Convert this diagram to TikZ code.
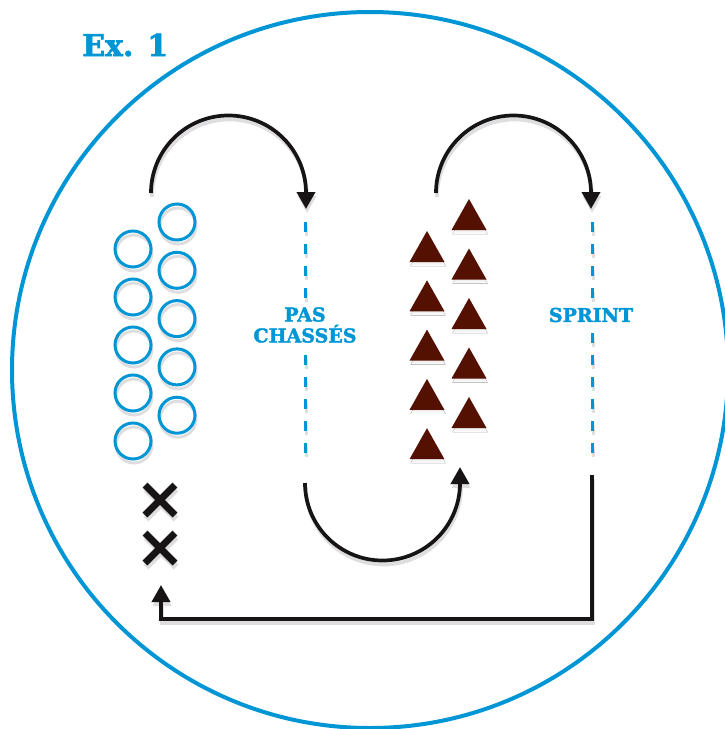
\documentclass[tikz,border=0pt]{standalone}
\usepackage{fontspec}
\setmainfont{DejaVu Serif}
\newfontfamily\slabfont{DejaVu Serif Bold}[FakeBold=2.2]
\usetikzlibrary{arrows.meta}
\definecolor{drillblue}{RGB}{0,150,214}
\definecolor{conebrown}{RGB}{84,17,2}
\definecolor{inkblack}{RGB}{22,20,20}
\definecolor{shade}{RGB}{222,222,225}

% the running routes: two arcs over the top, one arc below, and the return line
\newcommand\drillroutes[1]{%
  \draw[route,tip,#1] (s1) arc[start angle=180,end angle=360,radius=77.5] -- (e1);
  \draw[route,tip,#1] (s2) arc[start angle=180,end angle=360,radius=77.5] -- (e2);
  \draw[route,tip,#1] (s3) arc[start angle=180,end angle=0,radius=77.5] -- (e3);
  \draw[route,tip,#1] (s4) -- (c4) -- (c5) -- (e4);
}

\begin{document}
\begin{tikzpicture}[x=1pt,y=-1pt,
  route/.style={line width=3.7pt, draw=inkblack, line join=miter},
  tip/.style={-{Triangle[width=18pt,length=17pt]}},
  lane/.style={draw=drillblue, line width=3pt, dash pattern=on 10pt off 12pt},
  ring/.style={circle, draw=drillblue, line width=3pt, minimum size=36pt, inner sep=0pt},
  ringshade/.style={circle, draw=shade, line width=3pt, minimum size=36pt, inner sep=0pt},
  cross/.style={line width=7pt, draw=#1},
  drilltext/.style={font=\slabfont\fontsize{19}{21}\selectfont, align=center, inner sep=0pt},
]
\useasboundingbox (0,0) rectangle (724,729);

% outer frame
\draw[drillblue, line width=4pt] (370,370) circle[radius=358];

% title
\node[anchor=base west, inner sep=0pt, text=drillblue,
      font=\slabfont\fontsize{30}{30}\selectfont] (title) at (82,56) {Ex. 1};

% route end points
\coordinate (s1) at (151,193); \coordinate (e1) at (306,209);
\coordinate (s2) at (436,193); \coordinate (e2) at (591,209);
\coordinate (s3) at (305,483); \coordinate (e3) at (460,467);
\coordinate (s4) at (592,475); \coordinate (c4) at (592,619);
\coordinate (c5) at (161,619); \coordinate (e4) at (161,585);

% lane markers
\coordinate (la1) at (305,222); \coordinate (la2) at (305,298);
\coordinate (la3) at (305,355); \coordinate (la4) at (305,453);
\coordinate (lb1) at (592,222); \coordinate (lb2) at (592,298);
\coordinate (lb3) at (592,333); \coordinate (lb4) at (592,453);

% soft drop shadows
\begin{scope}[transform canvas={xshift=1pt,yshift=-4pt}]
  \drillroutes{draw=shade}
  \foreach \a/\b in {la1/la2,la3/la4,lb1/lb2,lb3/lb4}
    \draw[lane, draw=shade] (\a) -- (\b);
  \foreach \i in {0,...,4} {
    \node[ringshade] at (133,249+48*\i) {};
    \node[ringshade] at (177,222+48.3*\i) {};
    \fill[shade] (409.5,262+49.3*\i) -- ++(35,0) -- ++(-17.5,-31) -- cycle;
    \fill[shade] (451.5,230+49.5*\i) -- ++(35,0) -- ++(-17.5,-31) -- cycle;
  }
  \foreach \y in {500,548}
    \draw[cross=shade] (145,\y-15) -- ++(30,30) (145,\y+15) -- ++(30,-30);
\end{scope}

% lanes
\foreach \a/\b in {la1/la2,la3/la4,lb1/lb2,lb3/lb4}
  \draw[lane] (\a) -- (\b);

% players waiting (rings) and cones (triangles)
\foreach \i in {0,...,4} {
  \node[ring] (pl\i) at (133,249+48*\i) {};
  \node[ring] (pr\i) at (177,222+48.3*\i) {};
  \fill[conebrown] (409.5,262+49.3*\i) -- ++(35,0) -- ++(-17.5,-31) -- cycle;
  \fill[conebrown] (451.5,230+49.5*\i) -- ++(35,0) -- ++(-17.5,-31) -- cycle;
}

% starting marks
\foreach \y in {500,548}
  \draw[cross=inkblack] (145,\y-15) -- ++(30,30) (145,\y+15) -- ++(30,-30);

% routes
\drillroutes{}

% lane labels
\node[drilltext, text=drillblue] (pas) at (305,325) {PAS\\CHASSÉS};
\node[drilltext, text=drillblue] (sprint) at (591,315) {SPRINT};
\end{tikzpicture}
\end{document}
